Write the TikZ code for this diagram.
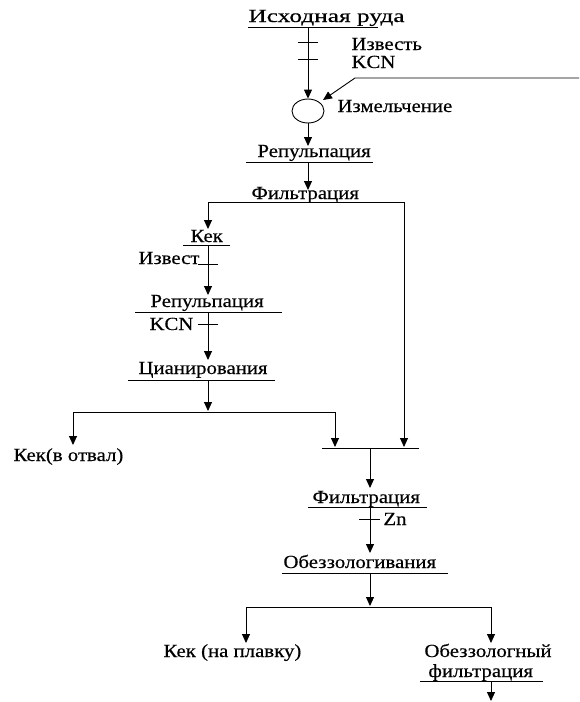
\documentclass[tikz,border=0pt]{standalone}
\usepackage{fontspec}
\setmainfont{Liberation Serif}[FakeStretch=1.125,FakeBold=0.4]
\newfontfamily\widefont{Liberation Serif}[FakeStretch=1.37,FakeBold=0.4]
\usetikzlibrary{arrows.meta,shapes.geometric}
\begin{document}
\begin{tikzpicture}[x=1pt,y=-1pt,line width=0.9pt,
  lbl/.style={inner sep=0pt,anchor=base west,font=\fontsize{18.5}{20}\selectfont},
  flow/.style={-{Triangle[width=8pt,length=9pt]}},
  tick/.style={line width=0.9pt}]
\useasboundingbox (0,0) rectangle (579,702);
% texts
\node[lbl,font=\widefont\fontsize{18.5}{20}\selectfont] (ore) at (248,22) {Исходная руда};
\node[lbl] (lime1) at (351,50) {Известь};
\node[lbl] (kcn1) at (351,68) {KCN};
\node[lbl] (grindl) at (337,112) {Измельчение};
\node[lbl] (rep1) at (257,157) {Репульпация};
\node[lbl] (fil1) at (251,199) {Фильтрация};
\node[lbl] (kek1) at (190,242) {Кек};
\node[lbl] (lime2) at (138,264) {Извест};
\node[lbl] (rep2) at (150,307) {Репульпация};
\node[lbl] (kcn2) at (149,330) {KCN};
\node[lbl] (cyan) at (138,374) {Цианирования};
\node[lbl] (kekw) at (13,461) {Кек(в отвал)};
\node[lbl] (fil2) at (312,503) {Фильтрация};
\node[lbl] (zn) at (383,525) {Zn};
\node[lbl] (dez) at (283,568) {Обеззологивания};
\node[lbl] (kekp) at (163,657) {Кек (на плавку)};
\node[lbl] (dezf1) at (424,657) {Обеззологный};
\node[lbl] (dezf2) at (428,677) {фильтрация};
% grinding mill
\node[draw,ellipse,minimum width=32pt,minimum height=24pt,inner sep=0pt] (mill) at (308,111) {};
% coordinates
\coordinate (oreB) at (308,27);
\coordinate (inA) at (579,78);
\coordinate (inB) at (355,78);
\coordinate (inC) at (323,100);
\coordinate (rep1T) at (308,146);
\coordinate (rep1B) at (308,162);
\coordinate (fil1T) at (308,190);
\coordinate (fil1L) at (208,202);
\coordinate (fil1R) at (404,202);
\coordinate (kek1T) at (208,229);
\coordinate (kek1B) at (208,245);
\coordinate (rep2T) at (208,295);
\coordinate (rep2B) at (208,312);
\coordinate (cyanT) at (208,360);
\coordinate (cyanB) at (208,380);
\coordinate (splT) at (208,411);
\coordinate (splL) at (73,412);
\coordinate (splR) at (335,412);
\coordinate (kekwT) at (73,445);
\coordinate (mixL) at (335,447);
\coordinate (mixR) at (404,447);
\coordinate (mixC) at (370,448);
\coordinate (fil2T) at (370,488);
\coordinate (fil2B) at (370,507);
\coordinate (dezT) at (370,553);
\coordinate (dezB) at (370,573);
\coordinate (spl2T) at (370,606);
\coordinate (spl2L) at (246,607);
\coordinate (spl2R) at (491,607);
\coordinate (kekpT) at (246,643);
\coordinate (dezfT) at (491,643);
\coordinate (dezfB) at (491,681);
\coordinate (outE) at (491,701);
% underlines / bars
\draw (248,27) -- (378,27);
\draw (246,162) -- (373,162);
\draw (fil1L) -- (fil1R);
\draw (183,245) -- (230,245);
\draw (135,312) -- (282,312);
\draw (128,380) -- (275,380);
\draw (splL) -- (splR);
\draw (322,448) -- (419,448);
\draw (308,507) -- (427,507);
\draw (282,573) -- (448,573);
\draw (spl2L) -- (spl2R);
\draw (420,681) -- (543,681);
% ticks
\draw[tick] (298,42) -- (318,42);
\draw[tick] (298,59) -- (318,59);
\draw[tick] (198,264) -- (218,264);
\draw[tick] (198,324) -- (218,324);
\draw[tick] (359,519) -- (380,519);
% flows
\draw[flow] (oreB) -- (mill.north);
\draw[flow] (inA) -- (inB) -- (inC);
\draw[flow] (mill.south) -- (rep1T);
\draw[flow] (rep1B) -- (fil1T);
\draw[flow] (fil1L) -- (kek1T);
\draw[flow] (fil1R) -- (mixR);
\draw[flow] (kek1B) -- (rep2T);
\draw[flow] (rep2B) -- (cyanT);
\draw[flow] (cyanB) -- (splT);
\draw[flow] (splL) -- (kekwT);
\draw[flow] (splR) -- (mixL);
\draw[flow] (mixC) -- (fil2T);
\draw[flow] (fil2B) -- (dezT);
\draw[flow] (dezB) -- (spl2T);
\draw[flow] (spl2L) -- (kekpT);
\draw[flow] (spl2R) -- (dezfT);
\draw[flow] (dezfB) -- (outE);
\end{tikzpicture}
\end{document}
